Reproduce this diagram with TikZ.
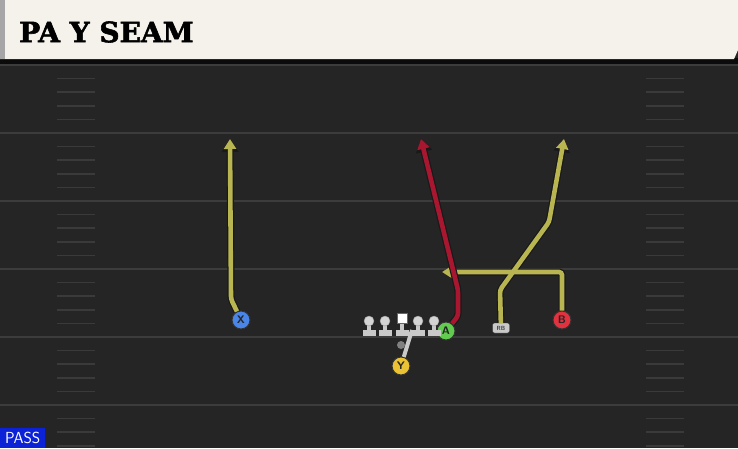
\documentclass[tikz,border=0pt]{standalone}
\usepackage{fontspec}
\setmainfont{DejaVu Sans}
\newfontfamily\slabfont[BoldFeatures={FakeBold=2}]{DejaVu Serif}
\usetikzlibrary{arrows.meta}
\definecolor{fieldbg}{HTML}{252525}
\definecolor{yardline}{HTML}{3C3C3C}
\definecolor{hashc}{HTML}{3A3A3A}
\definecolor{cream}{HTML}{F5F2EB}
\definecolor{routey}{HTML}{B9B550}
\definecolor{router}{HTML}{A8172F}
\definecolor{plblue}{HTML}{4A86E8}
\definecolor{plgreen}{HTML}{62CC4E}
\definecolor{plred}{HTML}{E2313F}
\definecolor{plyellow}{HTML}{EBC234}
\definecolor{linegray}{HTML}{C9C9C9}
\definecolor{passblue}{HTML}{0B22D6}
\tikzset{
  x=1pt,y=-1pt,
  player/.style={circle,draw=black!80,line width=1pt,minimum size=18pt,inner sep=0pt,font=\sffamily\bfseries\fontsize{11}{11}\selectfont,text=black!85},
  routeout/.style={line width=7pt,draw=black!90,rounded corners=3pt,-{Triangle[length=13pt,width=16pt]}},
  routein/.style={line width=4.6pt,rounded corners=3pt,-{Triangle[length=10pt,width=12pt]}},
  hashmark/.style={draw=hashc,line width=1.6pt},
  yard/.style={draw=yardline,line width=1.6pt},
}
\begin{document}
\begin{tikzpicture}
\useasboundingbox (0,0) rectangle (738,448);
% field
\fill[fieldbg] (0,0) rectangle (738,448);
\fill[black!70!fieldbg] (0,58) rectangle (738,64);
\foreach \yy in {65,133,201,269,337,405} {
  \draw[yard] (0,\yy) -- (738,\yy);
}
\foreach \yy in {65,133,201,269,337,405} {
  \foreach \k in {1,2,3,4} {
    \pgfmathsetmacro{\hy}{\yy+13.6*\k}
    \ifdim \hy pt<448pt
      \draw[hashmark] (57,\hy) -- (95,\hy);
      \draw[hashmark] (646,\hy) -- (684,\hy);
    \fi
  }
}
% title bar
\fill[cream] (0,0) -- (738,0) -- (738,50) -- (734,59) -- (0,59) -- cycle;
\fill[black!35] (0,0) rectangle (5,59);
\node[anchor=west,inner sep=0pt] (title) at (19,32) {\slabfont\bfseries\fontsize{28}{28}\selectfont PA Y SEAM};
% PASS label
\node[fill=passblue,anchor=south west,inner sep=0pt,minimum width=45pt,minimum height=20pt,text=white,font=\sffamily\fontsize{16}{16}\selectfont] (pass) at (0,448) {PASS};
% players
\node[player,fill=plblue] (X) at (241,320) {X};
\node[player,fill=plgreen] (A) at (446,331) {A};
\node[player,fill=plred] (B) at (562,320) {B};
\node[player,fill=plyellow] (Y) at (401,366) {Y};
\node[draw=black!80,fill=linegray,rounded corners=2pt,minimum width=17pt,minimum height=10pt,inner sep=0pt,font=\sffamily\bfseries\fontsize{6}{6}\selectfont,text=black!75] (RB) at (501,328) {RB};
% linemen
\foreach \lx/\nm in {369/L1,385/L2,418/L4,434/L5} {
  \fill[linegray] (\lx-6.5,330) rectangle (\lx+6.5,336);
  \fill[linegray] (\lx-2,322) rectangle (\lx+2,331);
  \node[circle,fill=linegray!80,draw=black!40,minimum size=10pt,inner sep=0pt] (\nm) at (\lx,321) {};
}
\fill[linegray] (395.5,330) rectangle (408.5,336);
\fill[linegray] (400,320) rectangle (404,331);
\node[fill=white,draw=black!60,minimum size=10pt,inner sep=0pt] (C) at (402,318) {};
\node[circle,fill=black!50,minimum size=8pt,inner sep=0pt] (QB) at (401,345) {};
\coordinate (ymot) at (412,330);
\draw[linegray,line width=4pt] (Y) -- (ymot);
% routes
\coordinate (xend) at (230,139);
\coordinate (aend) at (421,139);
\coordinate (rbend) at (564,139);
\coordinate (bend) at (442,272);
\foreach \st/\clr in {routeout/black!90,routein/routey} {
  \draw[\st,draw=\clr] (X) -- (231,299) -- (xend);
  \draw[\st,draw=\clr] (RB) -- (500,290) -- (549,222) -- (rbend);
  \draw[\st,draw=\clr] (B) -- (562,272) -- (bend);
}
\draw[routeout] (A) -- (458,316) -- (458,290) -- (aend);
\draw[routein,draw=router] (A) -- (458,316) -- (458,290) -- (aend);
\end{tikzpicture}
\end{document}
